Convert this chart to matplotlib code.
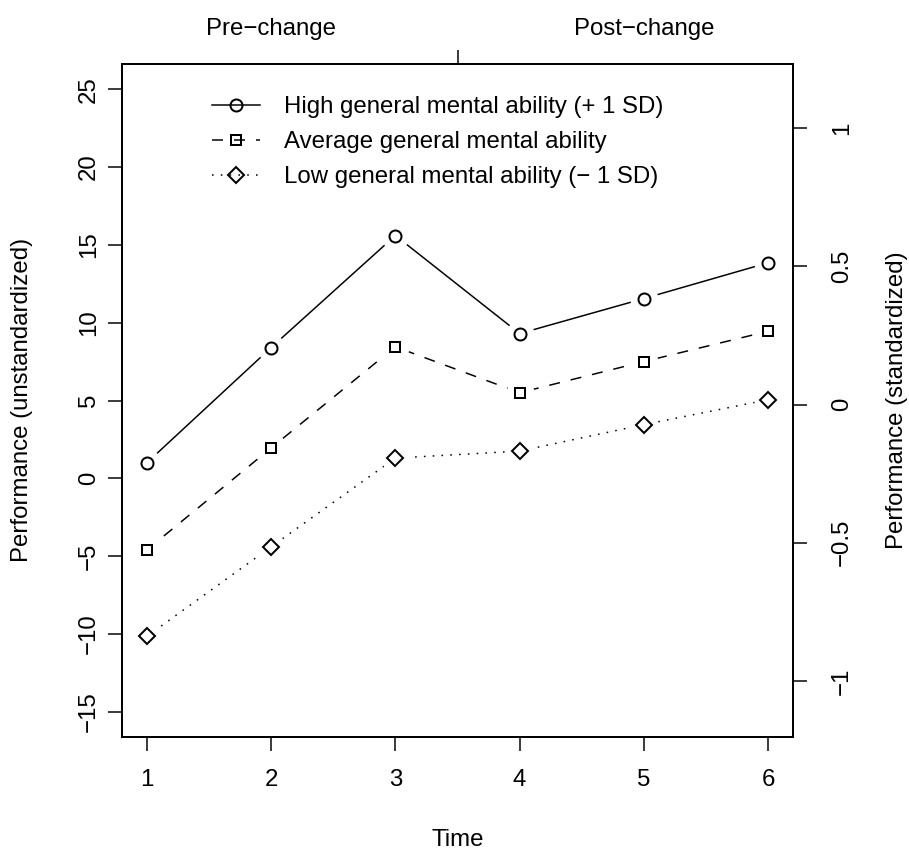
import numpy as np
import matplotlib
matplotlib.use("Agg")
import matplotlib.pyplot as plt
import matplotlib.transforms as mtransforms
from matplotlib.legend_handler import HandlerTuple

plt.rcParams['font.family'] = ['Liberation Sans', 'DejaVu Sans']
plt.rcParams['font.size'] = 12
plt.rcParams['lines.scale_dashes'] = False

# performance by time point, three ability levels
time = [1, 2, 3, 4, 5, 6]
high_gma = [1.0, 8.4, 15.6, 9.3, 11.55, 13.85]
avg_gma = [-4.6, 1.95, 8.45, 5.5, 7.5, 9.45]
low_gma = [-10.15, -4.4, 1.3, 1.75, 3.45, 5.05]

labels = ["High general mental ability (+ 1 SD)",
          "Average general mental ability",
          "Low general mental ability (\u2212 1 SD)"]
phase_labels = ["Pre\u2212change", "Post\u2212change"]
phase_pos = [2, 5]
change_point = 3.5

# unstandardized scale and its mapping to standardized units
y_ticks = [-15, -10, -5, 0, 5, 10, 15, 20, 25]
std_ticks = [-1, -0.5, 0, 0.5, 1]
perf_mean = 4.74
perf_sd = 17.75

W, H = 909, 855
fig = plt.figure(figsize=(W / 144, H / 144), dpi=144)
ax = fig.add_axes([122 / W, 1 - 736.7 / H, (793 - 122) / W, (736.7 - 64.3) / H])

styles = [
    (high_gma, 'o', '-', 6.0),
    (avg_gma, 's', (0, (5.5, 5.5)), 5.2),
    (low_gma, 'D', (0, (0.8, 3.6)), 5.4),
]
handles = []
for vals, mk, ls, ms in styles:
    ln, = ax.plot(time, vals, color='black', lw=0.75, linestyle=ls, zorder=2)
    # white halo leaves a gap in the line around each point
    ax.plot(time, vals, linestyle='none', marker='o', ms=14, mfc='white',
            mec='none', zorder=3)
    pt, = ax.plot(time, vals, linestyle='none', marker=mk, ms=ms, mfc='none',
                  mec='black', mew=1.0, zorder=4)
    handles.append((ln, pt))

xr = time[-1] - time[0]
ax.set_xlim(time[0] - 0.04 * xr, time[-1] + 0.04 * xr)
yr = y_ticks[-1] - y_ticks[0]
ax.set_ylim(y_ticks[0] - 0.04 * yr, y_ticks[-1] + 0.04 * yr)

ax.set_xticks(time)
ax.set_yticks(y_ticks)
ax.tick_params(axis='x', length=7, width=0.75, pad=9, labelsize=12)
ax.tick_params(axis='y', length=7, width=0.75, pad=4, labelsize=12)
for t in ax.get_yticklabels():
    t.set_rotation(90)
    t.set_va('center')
for s in ax.spines.values():
    s.set_linewidth(0.9)

# standardized axis on the right
ax2 = ax.twinx()
lo, hi = ax.get_ylim()
ax2.set_ylim((lo - perf_mean) / perf_sd, (hi - perf_mean) / perf_sd)
ax2.set_yticks(std_ticks)
ax2.set_yticklabels(['\u22121', '\u22120.5', '0', '0.5', '1'])
ax2.tick_params(axis='y', length=7, width=0.75, pad=12, labelsize=12)
for t in ax2.get_yticklabels():
    t.set_rotation(90)
    t.set_va('center')
for s in ax2.spines.values():
    s.set_linewidth(0.9)

# top axis: change point tick and phase labels
ax3 = ax.twiny()
ax3.set_xlim(ax.get_xlim())
ax3.set_xticks([change_point])
ax3.set_xticklabels([''])
ax3.tick_params(axis='x', length=7, width=0.75)
for s in ax3.spines.values():
    s.set_visible(False)
top_tr = mtransforms.blended_transform_factory(ax3.transData, fig.transFigure)
for xp, lab in zip(phase_pos, phase_labels):
    ax3.text(xp, 1 - 29 / H, lab, transform=top_tr,
             ha='center', va='center', fontsize=12)

fig.text(458 / W, 1 - 840 / H, "Time", ha='center', va='center', fontsize=12)
fig.text(22 / W, 1 - 400 / H, "Performance (unstandardized)", rotation=90,
         ha='center', va='center', fontsize=12)
fig.text(897 / W, 1 - 400 / H, "Performance (standardized)", rotation=90,
         ha='center', va='center', fontsize=12)

fig.legend(handles, labels, handler_map={tuple: HandlerTuple(ndivide=1)},
           loc='upper left', bbox_to_anchor=(200 / W, 1 - 84 / H),
           frameon=False, handlelength=2.0, handletextpad=1.0,
           labelspacing=0.55, borderpad=0, fontsize=12)

fig.savefig("out.png", dpi=144)
